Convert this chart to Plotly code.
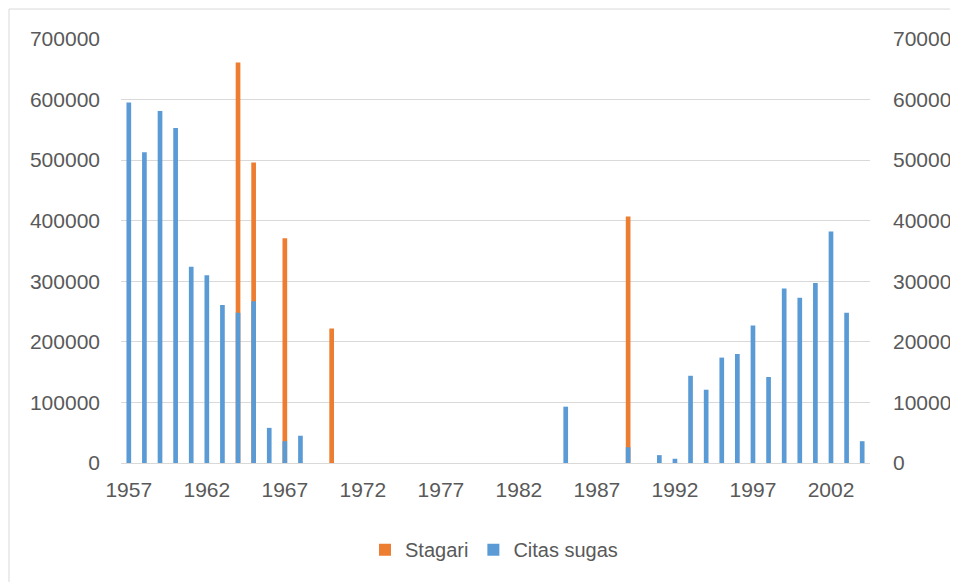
import plotly.graph_objects as go

years = list(range(1957, 2005))

# Stagari (left axis)
stagari = {1964: 661000, 1965: 496000, 1967: 371000, 1970: 222000, 1989: 407000}

# Citas sugas (right axis)
citas = {1957: 59500, 1958: 51300, 1959: 58100, 1960: 55300, 1961: 32400, 1962: 31000,
         1963: 26100, 1964: 24800, 1965: 26700, 1966: 5800, 1967: 3600, 1968: 4500,
         1985: 9300, 1989: 2600, 1991: 1300, 1992: 700, 1993: 14400, 1994: 12100,
         1995: 17400, 1996: 18000, 1997: 22700, 1998: 14200, 1999: 28800, 2000: 27300,
         2001: 29700, 2002: 38200, 2003: 24800, 2004: 3600}

stagari_vals = [stagari.get(y) for y in years]
citas_vals = [citas.get(y) for y in years]

tick_years = list(range(1957, 2004, 5))

ORANGE = "#ED7D31"
BLUE = "#5B9BD5"
GRAY = "#595959"
FONT = "Liberation Sans"

fig = go.Figure()
fig.add_trace(go.Bar(x=years, y=stagari_vals, name="Stagari", marker_color=ORANGE,
                     marker_line_width=0, width=0.3, yaxis="y"))
fig.add_trace(go.Bar(x=years, y=citas_vals, name="Citas sugas", marker_color=BLUE,
                     marker_line_width=0, width=0.3, yaxis="y2"))

# the page body adds an 8px offset; work in window pixels and subtract it
OFF = 8
W, H = 958 - OFF, 582 - OFF
L, R, T, B = 121 - OFF, 870 - OFF, 39 - OFF, 463.3 - OFF
pw, ph = R - L, B - T

def px(x):
    return (x - OFF - L) / pw

def py(y):
    return (B - (y - OFF)) / ph

fig.update_layout(
    width=W, height=H,
    margin=dict(l=L, r=W - R, t=T, b=H - B, pad=0, autoexpand=False),
    paper_bgcolor="white", plot_bgcolor="white",
    barmode="overlay",
    font=dict(family=FONT, size=21, color=GRAY),
    xaxis=dict(range=[1956.5, 2004.5], tickvals=tick_years, showgrid=False,
               showline=False, zeroline=False, ticks="", ticklabelstandoff=12,
               automargin=False, tickfont=dict(size=21, color=GRAY)),
    yaxis=dict(range=[0, 700000], dtick=100000, showgrid=True, gridcolor="#D9D9D9",
               gridwidth=1, zeroline=True, zerolinecolor="#D9D9D9", zerolinewidth=1,
               showline=False, ticks="", ticklabelstandoff=20, tickformat="d",
               automargin=False, tickfont=dict(size=21, color=GRAY)),
    yaxis2=dict(range=[0, 70000], dtick=10000, overlaying="y", side="right",
                showgrid=False, zeroline=False, showline=False, ticks="",
                ticklabelstandoff=22, tickformat="d", automargin=False,
                tickfont=dict(size=21, color=GRAY)),
    legend=dict(orientation="h", x=px(494), xanchor="center", y=py(550), yanchor="middle",
                font=dict(size=20, color=GRAY), traceorder="normal",
                itemwidth=30, bgcolor="rgba(0,0,0,0)"),
    showlegend=True,
    shapes=[dict(type="rect", xref="paper", yref="paper",
                 x0=px(9), x1=px(975), y0=py(600), y1=py(9),
                 line=dict(color="#D9D9D9", width=1), layer="below")],
)

fig.write_html("out.html")
